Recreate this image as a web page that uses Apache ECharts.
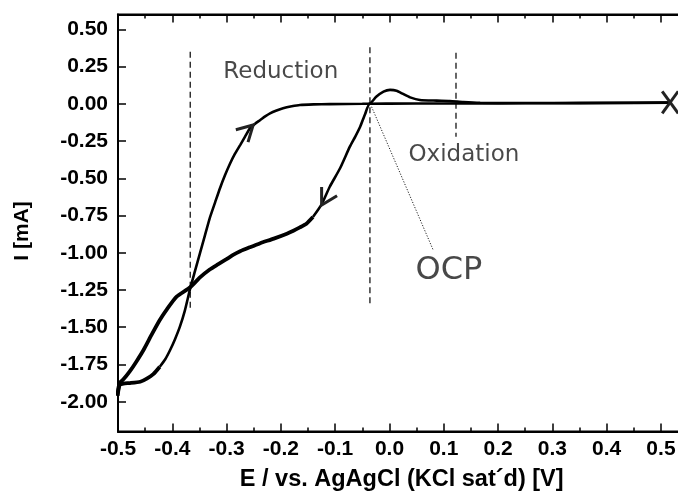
<!DOCTYPE html>
<html>
<head>
<meta charset="utf-8">
<script src="https://cdn.jsdelivr.net/npm/echarts@6/dist/echarts.min.js"></script>
<style>
  html, body { margin: 0; padding: 0; background: #fff; }
  #chart { width: 678px; height: 494px; }
</style>
</head>
<body>
<div id="chart"></div>
<script>
// Cyclic voltammogram. E in V, I in mA.

// cathodic sweep, from the X marker down through the OCP
const cathodicE = [0.515, 0.40, 0.30, 0.20, 0.10, 0.00, -0.036, -0.045, -0.054, -0.063, -0.073, -0.091, -0.110, -0.125, -0.141];
const cathodicI = [0.008, 0.005, 0.004, 0.003, 0.002, 0.001, 0.000, -0.070, -0.154, -0.220, -0.288, -0.433, -0.557, -0.675, -0.760];
// noisy plateau of the same sweep, down to -0.5 V
const plateauE = [-0.141, -0.153, -0.165, -0.177, -0.189, -0.213, -0.238, -0.257, -0.275, -0.288, -0.301, -0.316, -0.331, -0.349, -0.367,
                  -0.392, -0.410, -0.423, -0.438, -0.453, -0.466, -0.478, -0.490, -0.496, -0.501];
const plateauI = [-0.760, -0.805, -0.830, -0.852, -0.872, -0.905, -0.936, -0.963, -0.990, -1.015, -1.045, -1.078, -1.112, -1.165, -1.232,
                  -1.295, -1.380, -1.452, -1.550, -1.653, -1.730, -1.795, -1.850, -1.870, -1.960];
// return sweep, noisy start near -0.5 V
const returnNoisyE = [-0.501, -0.498, -0.490, -0.478, -0.459, -0.447, -0.435, -0.423];
const returnNoisyI = [-1.960, -1.890, -1.878, -1.875, -1.866, -1.845, -1.815, -1.765];
// return (anodic) sweep up to the X marker
const anodicE = [-0.423, -0.413, -0.404, -0.395, -0.386, -0.377, -0.367, -0.358, -0.349, -0.340, -0.331, -0.321, -0.312, -0.303, -0.294,
                 -0.285, -0.275, -0.266, -0.257, -0.248, -0.238, -0.229, -0.220, -0.208, -0.196, -0.180, -0.165, -0.140, -0.110, -0.050,
                 -0.036, -0.025, -0.011, 0.001, 0.013, 0.025, 0.038, 0.056, 0.087, 0.111, 0.136, 0.167, 0.250, 0.400, 0.515];
const anodicI = [-1.765, -1.715, -1.653, -1.580, -1.496, -1.390, -1.239, -1.120, -1.002, -0.885, -0.767, -0.660, -0.565, -0.480, -0.404,
                 -0.338, -0.277, -0.220, -0.165, -0.135, -0.109, -0.085, -0.064, -0.045, -0.030, -0.017, -0.008, -0.004, -0.002, 0.000,
                 0.002, 0.045, 0.081, 0.093, 0.088, 0.066, 0.043, 0.025, 0.021, 0.019, 0.012, 0.007, 0.005, 0.006, 0.008];

// dashed guide lines: potential, top and bottom current
const guideE      = [-0.367, -0.036, 0.1225];
const guideTop    = [0.350, 0.379, 0.343];
const guideBottom = [-1.390, -1.362, -0.221];

// dotted OCP pointer
const ocpLineE = [-0.033, 0.081];
const ocpLineI = [-0.020, -0.986];

// sweep direction arrows: tip, and screen angles (deg) of the two arms
const arrowE    = [-0.251, -0.125];
const arrowI    = [-0.142, -0.680];
const arrowArmA = [164.7, -90];
const arrowArmB = [106.7, -30.9];

// start/end marker
const startE = [0.517];
const startI = [0.010];

// text annotations (left edge, vertical middle)
const noteText = ['Reduction', 'Oxidation', 'OCP'];
const noteE    = [-0.307, 0.034, 0.047];
const noteI    = [0.213, -0.344, -1.119];
const noteSize = [23, 23, 32];

const yTicks = [0.5, 0.25, 0, -0.25, -0.5, -0.75, -1.0, -1.25, -1.5, -1.75, -2.0];
const yMinor = [0.375, 0.125, -0.125, -0.375, -0.625, -0.875, -1.125, -1.375, -1.625, -1.875, -2.125];

const zip = (a, b) => a.map((v, i) => [v, b[i]]);

const AXIS_FONT = 'Liberation Sans';
const NOTE_FONT = 'DejaVu Sans';
const ARM = 18;

const chart = echarts.init(document.getElementById('chart'), null, { renderer: 'canvas' });

const curve = (data, width) => ({
  type: 'line',
  data,
  showSymbol: false,
  symbol: 'none',
  smooth: 0.2,
  lineStyle: { color: '#000', width },
  z: 4,
  silent: true,
});

const tickStyle = { color: '#000', width: 1.5 };
const fmt = d => v => (Math.abs(v) < 1e-9 ? 0 : v).toFixed(d);
const labelFont = { fontFamily: AXIS_FONT, fontWeight: 'bold', fontSize: 21, color: '#000' };

chart.setOption({
  animation: false,
  backgroundColor: '#fff',
  grid: {
    left: 118, top: 14.4, width: 567.4, height: 417.1,
    show: true, borderColor: '#000', borderWidth: 2,
    outerBoundsMode: 'none',
  },
  xAxis: [
    {
      type: 'value', position: 'bottom',
      min: -0.5, max: 0.545, interval: 0.1,
      axisLine: { onZero: false, lineStyle: { color: '#000', width: 2 } },
      axisTick: { inside: true, length: 8, lineStyle: tickStyle },
      minorTick: { show: true, splitNumber: 2, length: 4, lineStyle: tickStyle },
      splitLine: { show: false },
      axisLabel: { margin: 7, showMaxLabel: false, formatter: fmt(1), ...labelFont },
      name: 'E / vs. AgAgCl (KCl sat\u00b4d) [V]',
      nameLocation: 'middle', nameGap: 36,
      nameTextStyle: { ...labelFont, fontSize: 23.5 },
    },
    {
      type: 'value', position: 'top',
      min: -0.5, max: 0.545, interval: 0.1,
      axisLine: { onZero: false, lineStyle: { color: '#000', width: 2 } },
      axisTick: { inside: true, length: 8, lineStyle: tickStyle },
      minorTick: { show: true, splitNumber: 2, length: 4, lineStyle: tickStyle },
      splitLine: { show: false },
      axisLabel: { show: false },
    },
  ],
  yAxis: [
    {
      type: 'value', position: 'left',
      min: -2.2, max: 0.6,
      axisLine: { onZero: false, lineStyle: { color: '#000', width: 2 } },
      axisTick: { inside: true, length: 8, lineStyle: tickStyle, customValues: yTicks },
      splitLine: { show: false },
      axisLabel: { margin: 10, customValues: yTicks, formatter: fmt(2), ...labelFont },
      name: 'I [mA]',
      nameLocation: 'middle', nameGap: 85,
      nameTextStyle: { ...labelFont, padding: [0, 16, 0, 0] },
    },
    {
      // minor ticks of the left axis, pulled over from the right side
      type: 'value', position: 'right', offset: -567.4,
      min: -2.2, max: 0.6,
      axisLine: { show: false },
      axisTick: { inside: false, length: 4, lineStyle: tickStyle, customValues: yMinor },
      axisLabel: { show: false },
      splitLine: { show: false },
    },
  ],
  series: [
    curve(zip(cathodicE, cathodicI), 2.6),
    curve(zip(plateauE, plateauI), 3.8),
    curve(zip(returnNoisyE, returnNoisyI), 3.8),
    curve(zip(anodicE, anodicI), 2.6),
    ...guideE.map((e, i) => ({
      type: 'line',
      data: [[e, guideTop[i]], [e, guideBottom[i]]],
      showSymbol: false, symbol: 'none', silent: true,
      lineStyle: { color: '#000', width: 1.2, type: [6, 4] },
      z: 2,
    })),
    {
      type: 'line',
      data: zip(ocpLineE, ocpLineI),
      showSymbol: false, symbol: 'none', silent: true,
      lineStyle: { color: '#222', width: 1, type: [1.2, 1.6] },
      z: 2,
    },
    {
      // chevron arrows along the sweep
      type: 'custom',
      data: arrowE.map((e, i) => [e, arrowI[i], arrowArmA[i], arrowArmB[i]]),
      renderItem: (params, api) => {
        const p = api.coord([api.value(0), api.value(1)]);
        const arm = a => [p[0] + ARM * Math.cos(a * Math.PI / 180), p[1] + ARM * Math.sin(a * Math.PI / 180)];
        return {
          type: 'polyline',
          shape: { points: [arm(api.value(2)), p, arm(api.value(3))] },
          style: { stroke: '#222', lineWidth: 3, fill: null, lineJoin: 'miter' },
        };
      },
      silent: true, z: 5,
    },
    {
      // X marker where the sweep starts and ends
      type: 'custom',
      data: zip(startE, startI),
      renderItem: (params, api) => {
        const [x, y] = api.coord([api.value(0), api.value(1)]);
        const st = { stroke: '#222', lineWidth: 3 };
        return {
          type: 'group',
          children: [
            { type: 'line', shape: { x1: x - 8, y1: y - 11, x2: x + 8, y2: y + 11 }, style: st },
            { type: 'line', shape: { x1: x + 8, y1: y - 11, x2: x - 8, y2: y + 11 }, style: st },
          ],
        };
      },
      clip: false, silent: true, z: 5,
    },
    {
      type: 'scatter',
      data: noteText.map((t, i) => ({
        name: t, value: [noteE[i], noteI[i]],
        label: { fontSize: noteSize[i] },
      })),
      symbolSize: 1,
      itemStyle: { color: 'transparent' },
      label: {
        show: true, position: 'right', distance: 0,
        formatter: '{b}', fontFamily: NOTE_FONT, color: '#1a1a1a',
      },
      silent: true, z: 6,
    },
  ],
});
</script>
</body>
</html>
